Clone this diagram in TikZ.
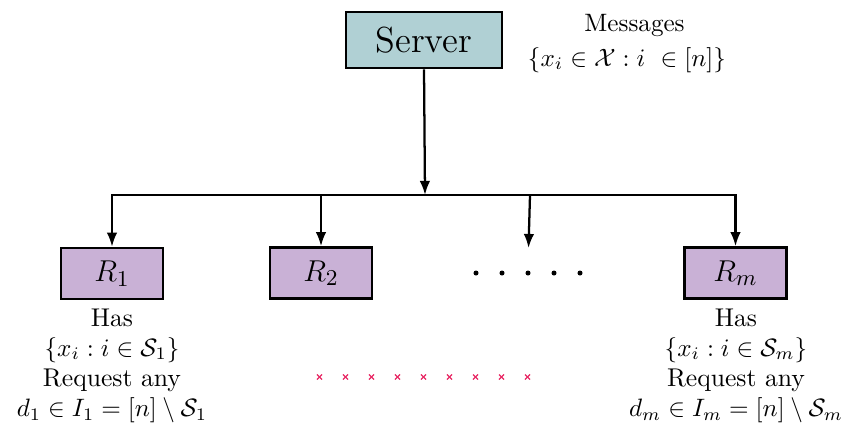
\documentclass[tikz,border=0pt]{standalone}
\usetikzlibrary{arrows.meta}
\definecolor{servercol}{RGB}{176,208,212}
\definecolor{recvcol}{RGB}{201,177,214}
\definecolor{crosscol}{RGB}{232,40,100}
\begin{document}
\begin{tikzpicture}[x=0.3976pt,y=-0.3976pt,
  box/.style={draw=black,line width=1pt,inner sep=0pt},
  serverbox/.style={box,fill=servercol,minimum width=62pt,minimum height=22.3pt,font=\Large},
  recvbox/.style={box,fill=recvcol,minimum width=40.6pt,minimum height=20.3pt,font=\fontsize{12.5}{15}\selectfont},
  arr/.style={line width=0.9pt,-{Latex[length=5.6pt,width=4.2pt]}},
  info/.style={align=center,inner sep=0pt,anchor=north,font=\fontsize{10.2}{12}\selectfont},
  plain/.style={inner sep=0pt,anchor=base},
  crossmark/.style={draw=crosscol,line width=0.5pt},
]
\useasboundingbox (0,0) rectangle (848,423);
% server and messages
\node[serverbox] (server) at (424,40) {Server};
\node[plain] (msg) at (634.5,31) {Messages};
\node[plain] (msgset) at (627,66) {$\{x_i\in\mathcal{X} : i~\in[n]\}$};
% receivers
\node[recvbox] (R1) at (112,273.5) {$R_1$};
\node[recvbox] (R2) at (321,273) {$R_2$};
\node[recvbox] (Rm) at (735.5,273) {$R_m$};
% bus
\coordinate (j) at (425,195);
\coordinate (k1) at (530,195);
\coordinate (k2) at (528.5,248);
\draw[arr] (server.south) -- (j);
\draw[arr] (j) -- (R1.north |- j) -- (R1.north);
\draw[arr] (j) -- (Rm.north |- j) -- (Rm.north);
\draw[arr] (R2.north |- j) -- (R2.north);
\draw[arr] (k1) -- (k2);
% dots
\foreach \i in {0,...,4}{
  \fill ({476+26*\i},273) circle[radius=1pt];
}
% red crosses
\foreach \i in {0,...,8}{
  \coordinate (c\i) at ({319.5+26*\i},377);
  \draw[crossmark] ([shift={(-1pt,-1pt)}]c\i) -- ([shift={(1pt,1pt)}]c\i);
  \draw[crossmark] ([shift={(-1pt,1pt)}]c\i) -- ([shift={(1pt,-1pt)}]c\i);
}
% receiver info
\node[info] (t1) at (112,308) {Has\\$\{x_i : i\in\mathcal{S}_1\}$\\Request any\\$d_1\in I_1=[n]\setminus\mathcal{S}_1$};
\node[info] (tm) at (736,308) {Has\\$\{x_i : i\in\mathcal{S}_m\}$\\Request any\\$d_m\in I_m=[n]\setminus\mathcal{S}_m$};
\end{tikzpicture}
\end{document}
